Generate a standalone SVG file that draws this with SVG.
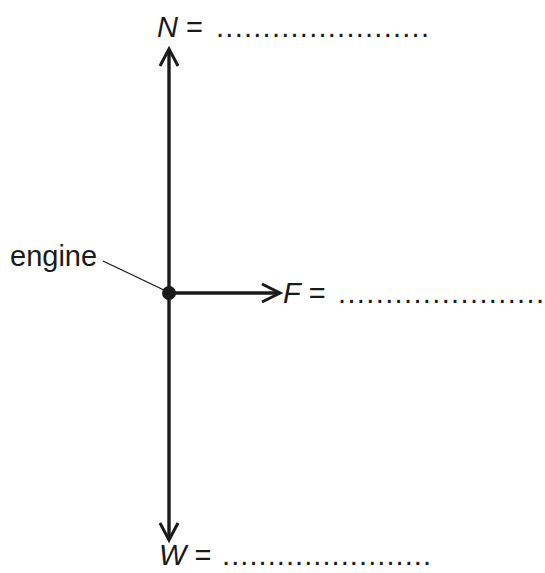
<svg xmlns="http://www.w3.org/2000/svg" width="545" height="573" viewBox="0 0 545 573">
<style>
text{font-family:"Liberation Sans",Arial,sans-serif;font-size:29px;fill:#1a1a1a}
.i{font-style:italic}
.ln{stroke:#1a1a1a;stroke-width:3.4;fill:none}
.hd{stroke:#1a1a1a;stroke-width:3;fill:none;stroke-linejoin:miter}
</style>
<rect width="545" height="573" fill="#fff"/>
<g id="connectors">
<line class="ln" x1="169" y1="50" x2="169" y2="539"/>
<polyline class="hd" points="160,66 169,49 178,66"/>
<polyline class="hd" points="160,523 169,540 178,523"/>
<line class="ln" x1="169" y1="293" x2="280" y2="293"/>
<polyline class="hd" points="262,284 280,293 262,302"/>
<line x1="103" y1="261" x2="166" y2="291" stroke="#1a1a1a" stroke-width="1.3"/>
</g>
<g id="engine">
<circle cx="169" cy="293" r="7" fill="#1a1a1a"/>
<text x="10" y="266">engine</text>
</g>
<g id="N">
<text x="157" y="37"><tspan class="i">N</tspan> =</text>
<text x="216" y="37" textLength="213" lengthAdjust="spacing">.......................</text>
</g>
<g id="F">
<text x="283" y="303"><tspan class="i">F</tspan> =</text>
<text x="338" y="303" textLength="206" lengthAdjust="spacing">......................</text>
</g>
<g id="W">
<text x="159" y="565"><tspan class="i">W</tspan> =</text>
<text x="222" y="565" textLength="209" lengthAdjust="spacing">.......................</text>
</g>
</svg>
